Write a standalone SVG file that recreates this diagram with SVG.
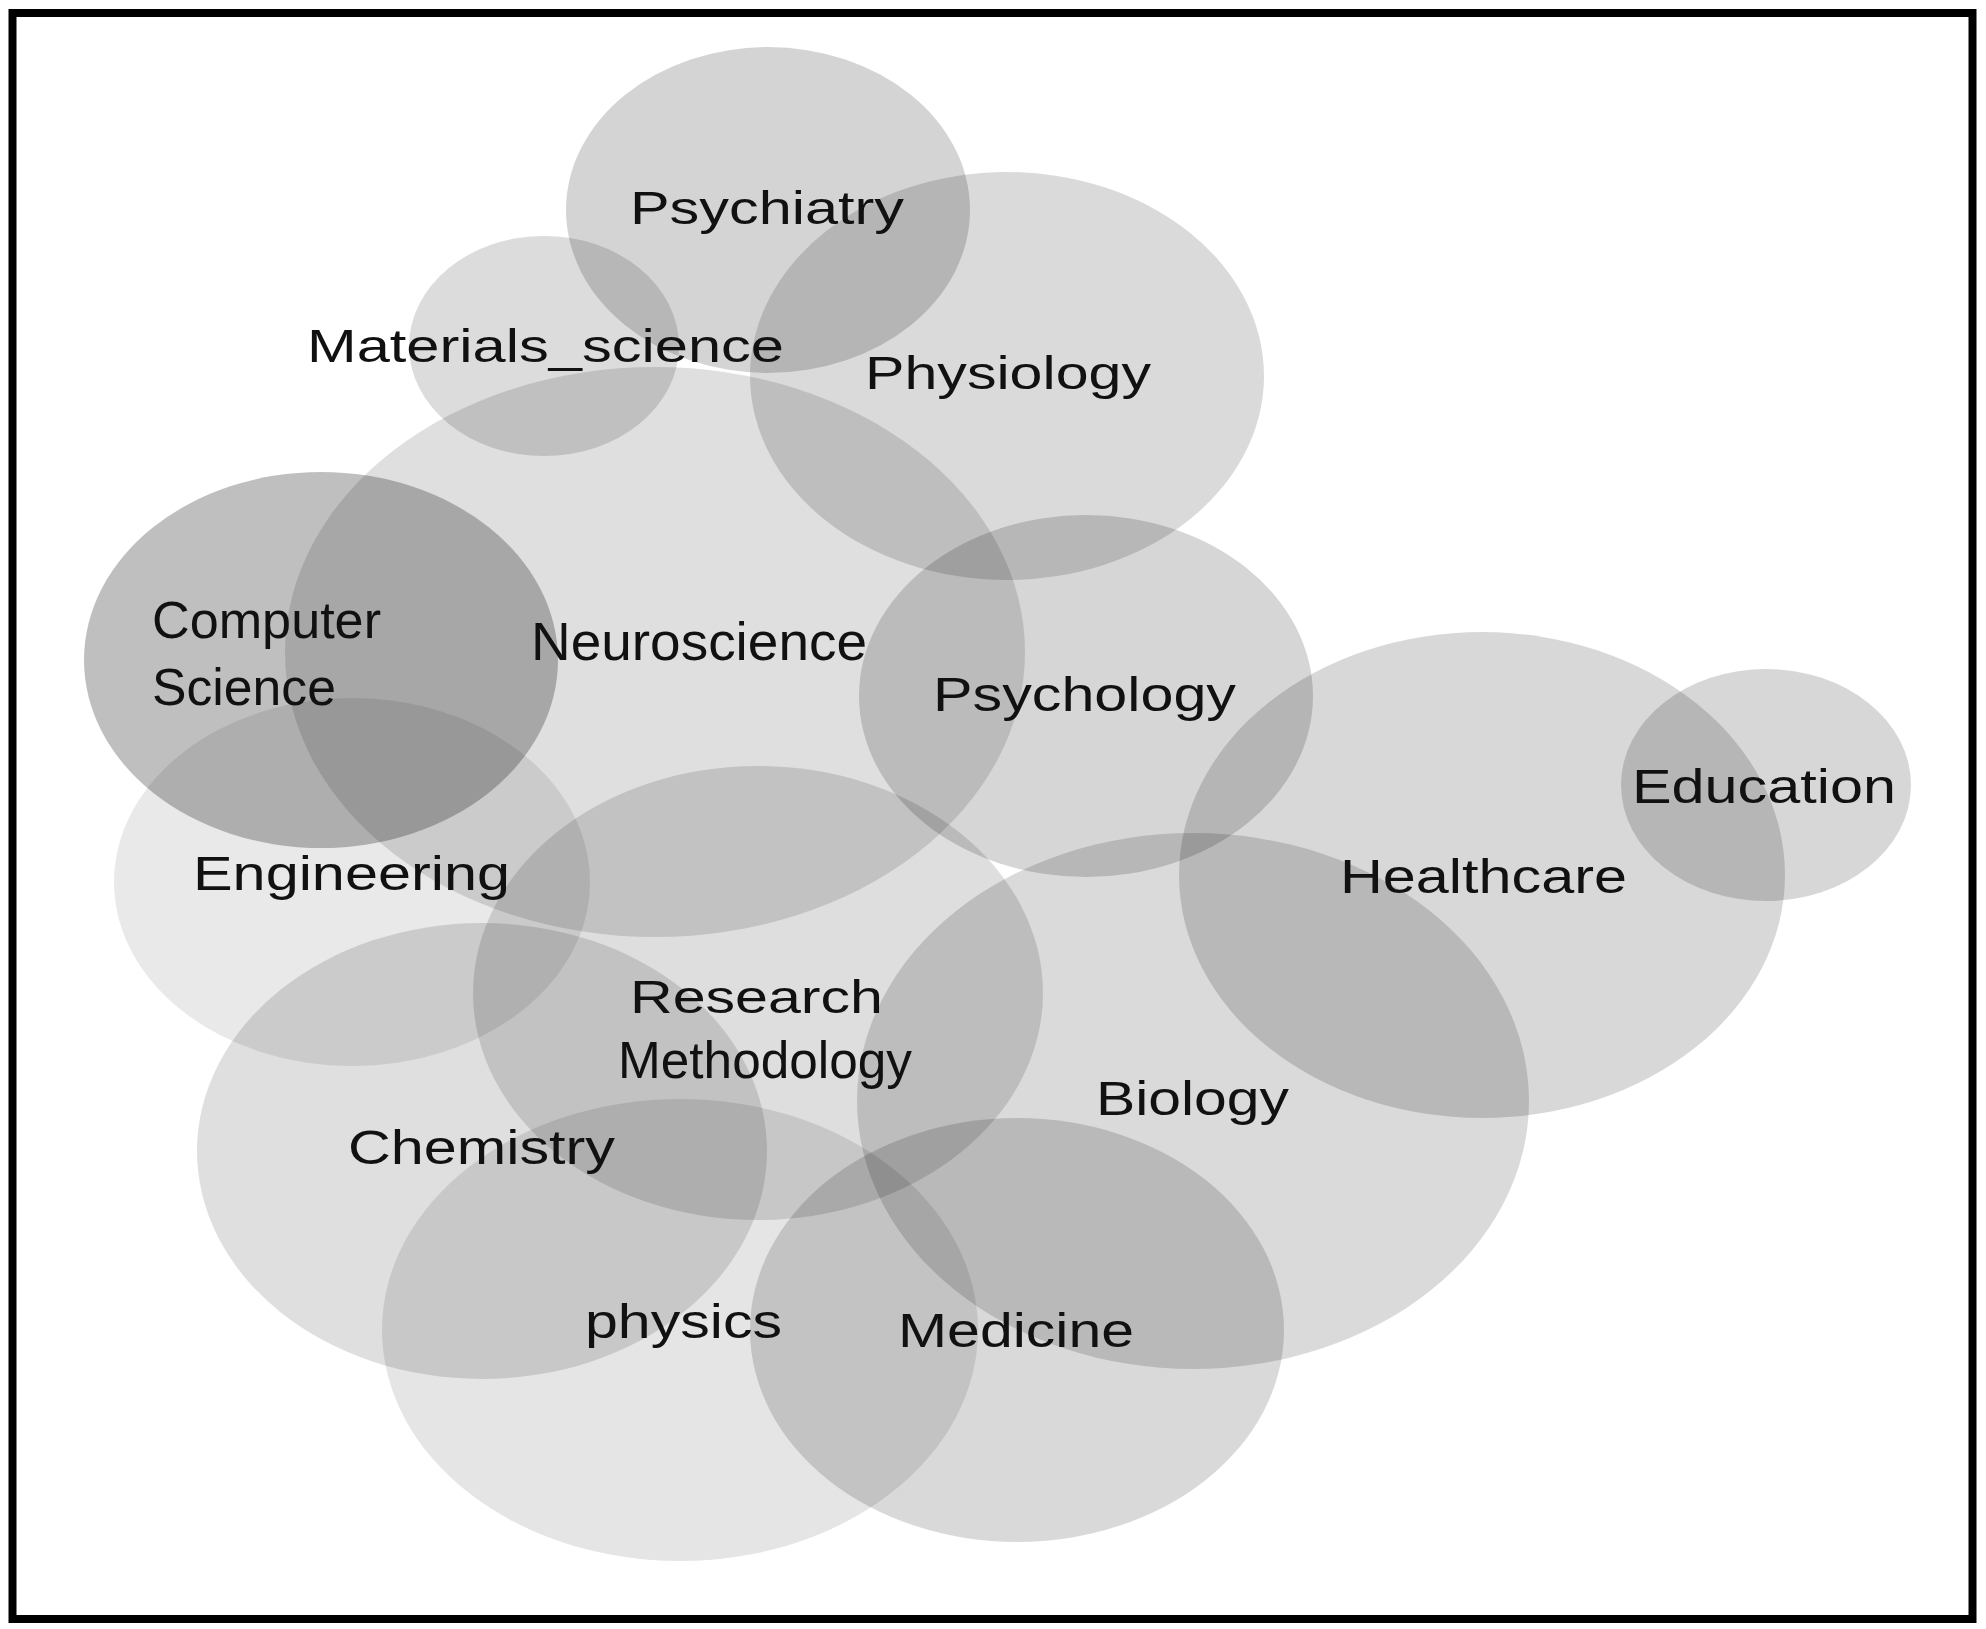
<svg xmlns="http://www.w3.org/2000/svg" width="1986" height="1629" viewBox="0 0 1986 1629">
<style>
.c{fill:#000;stroke:none}
.t{font-family:"Liberation Sans",Arial,sans-serif;fill:#111}
</style>
<rect x="0" y="0" width="1986" height="1629" fill="#fff"/>
<g id="connectors"/>
<g id="psychiatry"><ellipse class="c" cx="768" cy="210" rx="202" ry="163" fill-opacity="0.17"/></g>
<g id="physiology"><ellipse class="c" cx="1007" cy="376" rx="257" ry="204" fill-opacity="0.145"/></g>
<g id="materials_science"><ellipse class="c" cx="544" cy="346" rx="135" ry="110" fill-opacity="0.137"/></g>
<g id="neuroscience"><ellipse class="c" cx="655" cy="652" rx="370" ry="285" fill-opacity="0.125"/></g>
<g id="computer_science"><ellipse class="c" cx="321" cy="660" rx="237" ry="188" fill-opacity="0.25"/></g>
<g id="psychology"><ellipse class="c" cx="1086" cy="696" rx="227" ry="181" fill-opacity="0.16"/></g>
<g id="healthcare"><ellipse class="c" cx="1482" cy="875" rx="303" ry="243" fill-opacity="0.153"/></g>
<g id="education"><ellipse class="c" cx="1766" cy="785" rx="145" ry="116" fill-opacity="0.155"/></g>
<g id="engineering"><ellipse class="c" cx="352" cy="882" rx="238" ry="184" fill-opacity="0.085"/></g>
<g id="research_methodology"><ellipse class="c" cx="758" cy="993" rx="285" ry="227" fill-opacity="0.13"/></g>
<g id="biology"><ellipse class="c" cx="1193" cy="1101" rx="336" ry="268" fill-opacity="0.145"/></g>
<g id="chemistry"><ellipse class="c" cx="482" cy="1151" rx="285" ry="228" fill-opacity="0.125"/></g>
<g id="physics"><ellipse class="c" cx="680" cy="1330" rx="298" ry="231" fill-opacity="0.1"/></g>
<g id="medicine"><ellipse class="c" cx="1017" cy="1330" rx="267" ry="212" fill-opacity="0.15"/></g>
<g id="labels">
<text class="t" x="630" y="224" font-size="46" textLength="274" lengthAdjust="spacingAndGlyphs">Psychiatry</text>
<text class="t" x="307" y="362" font-size="47" textLength="477" lengthAdjust="spacingAndGlyphs">Materials_science</text>
<text class="t" x="865" y="389" font-size="47" textLength="286" lengthAdjust="spacingAndGlyphs">Physiology</text>
<text class="t" x="152" y="638" font-size="52" textLength="229" lengthAdjust="spacingAndGlyphs">Computer</text>
<text class="t" x="152" y="705" font-size="52" textLength="184" lengthAdjust="spacingAndGlyphs">Science</text>
<text class="t" x="531" y="660" font-size="53" textLength="336" lengthAdjust="spacingAndGlyphs">Neuroscience</text>
<text class="t" x="933" y="711" font-size="48" textLength="303" lengthAdjust="spacingAndGlyphs">Psychology</text>
<text class="t" x="193" y="890" font-size="48" textLength="317" lengthAdjust="spacingAndGlyphs">Engineering</text>
<text class="t" x="630" y="1013" font-size="47" textLength="253" lengthAdjust="spacingAndGlyphs">Research</text>
<text class="t" x="618" y="1078" font-size="52" textLength="294" lengthAdjust="spacingAndGlyphs">Methodology</text>
<text class="t" x="348" y="1164" font-size="48" textLength="267" lengthAdjust="spacingAndGlyphs">Chemistry</text>
<text class="t" x="1096" y="1115" font-size="48" textLength="193" lengthAdjust="spacingAndGlyphs">Biology</text>
<text class="t" x="585" y="1338" font-size="48" textLength="197" lengthAdjust="spacingAndGlyphs">physics</text>
<text class="t" x="898" y="1347" font-size="48" textLength="236" lengthAdjust="spacingAndGlyphs">Medicine</text>
<text class="t" x="1340" y="893" font-size="49" textLength="287" lengthAdjust="spacingAndGlyphs">Healthcare</text>
<text class="t" x="1632" y="803" font-size="49" textLength="264" lengthAdjust="spacingAndGlyphs">Education</text>
</g>
<rect x="12.5" y="13" width="1960" height="1606" fill="none" stroke="#000" stroke-width="8"/>
</svg>
